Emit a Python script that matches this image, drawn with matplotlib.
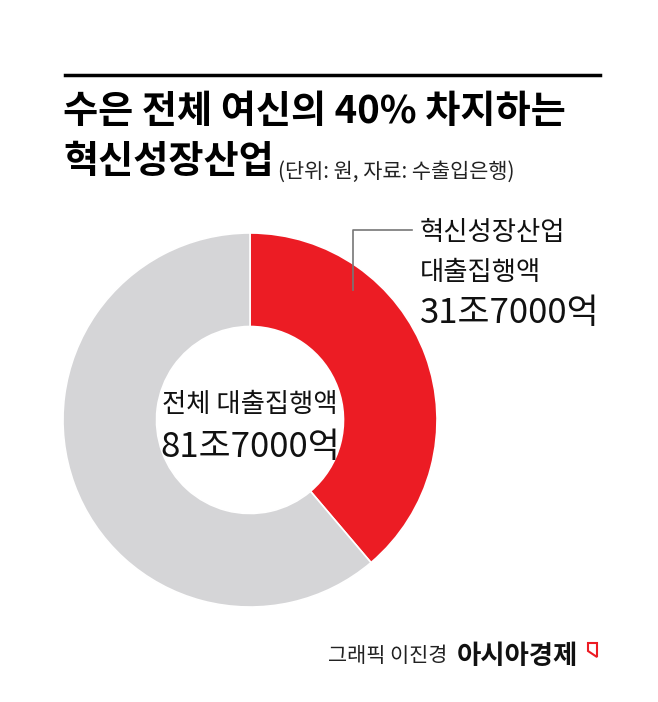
import matplotlib
matplotlib.use('Agg')
import matplotlib.pyplot as plt
from matplotlib.patches import Polygon

plt.rcParams['font.family'] = ['Noto Sans CJK KR', 'DejaVu Sans']

# data
labels = ['혁신성장산업 대출집행액', '기타']
total = 81.7  # 조원
innov = 31.7
values = [innov, total - innov]
colors = ['#ec1c24', '#d5d5d7']

title1 = '수은 전체 여신의 40% 차지하는'
title2 = '혁신성장산업'
unit_txt = '(단위: 원, 자료: 수출입은행)'

W, H = 658, 702
fig = plt.figure(figsize=(W / 100, H / 100), dpi=100)
fig.patch.set_facecolor('white')


def px(x, y):
    return x / W, 1 - y / H


# donut, center (250,420), radius 187 px
cx, cy, r = 250, 420, 187
ax = fig.add_axes([(cx - r) / W, (H - cy - r) / H, 2 * r / W, 2 * r / H])
ax.pie(values, colors=colors, startangle=90, counterclock=False,
       radius=1, wedgeprops=dict(width=0.5, edgecolor='white', linewidth=1.2))
ax.set_xlim(-1, 1)
ax.set_ylim(-1, 1)
ax.set_aspect('equal')
ax.axis('off')

# top rule
fig.add_artist(plt.Line2D([65 / W, 600 / W], [1 - 75 / H] * 2, color='black', lw=2.5))

# title
fig.text(*px(63, 111), title1, fontsize=27.5, fontweight='bold', va='center', ha='left')
fig.text(*px(63, 162), title2, fontsize=27.5, fontweight='bold', va='center', ha='left')
fig.text(*px(278, 172), unit_txt, fontsize=15, va='center', ha='left', color='#222222')

# center label
fig.text(*px(250, 405), '전체 대출집행액', fontsize=19, va='center', ha='center', color='#111111')
fig.text(*px(250, 447), '%d조%d억' % (int(total), round((total % 1) * 10000)),
         fontsize=25, fontweight='medium', va='center', ha='center', color='#111111')

# leader line
fig.add_artist(plt.Line2D([353 / W, 353 / W, 412 / W],
                          [1 - 290 / H, 1 - 230 / H, 1 - 230 / H], color='#777777', lw=1.2))
fig.text(*px(420, 232), '혁신성장산업', fontsize=19, va='center', ha='left', color='#111111')
fig.text(*px(420, 272), '대출집행액', fontsize=19, va='center', ha='left', color='#111111')
fig.text(*px(420, 314), '%d조%d억' % (int(innov), round((innov % 1) * 10000)),
         fontsize=25, fontweight='medium', va='center', ha='left', color='#111111')

# credit
fig.text(*px(328, 656), '그래픽 이진경', fontsize=15, va='center', ha='left', color='#222222')
fig.text(*px(457, 656), '아시아경제', fontsize=19, fontweight='bold', va='center', ha='left', color='#111111')
fig.add_artist(Polygon([px(588, 643), px(597, 643), px(597, 657), px(588, 651)],
                       closed=True, transform=fig.transFigure, facecolor='white',
                       edgecolor='#ec1c24', lw=1.5))

fig.savefig('out.png', dpi=100, facecolor='white')
